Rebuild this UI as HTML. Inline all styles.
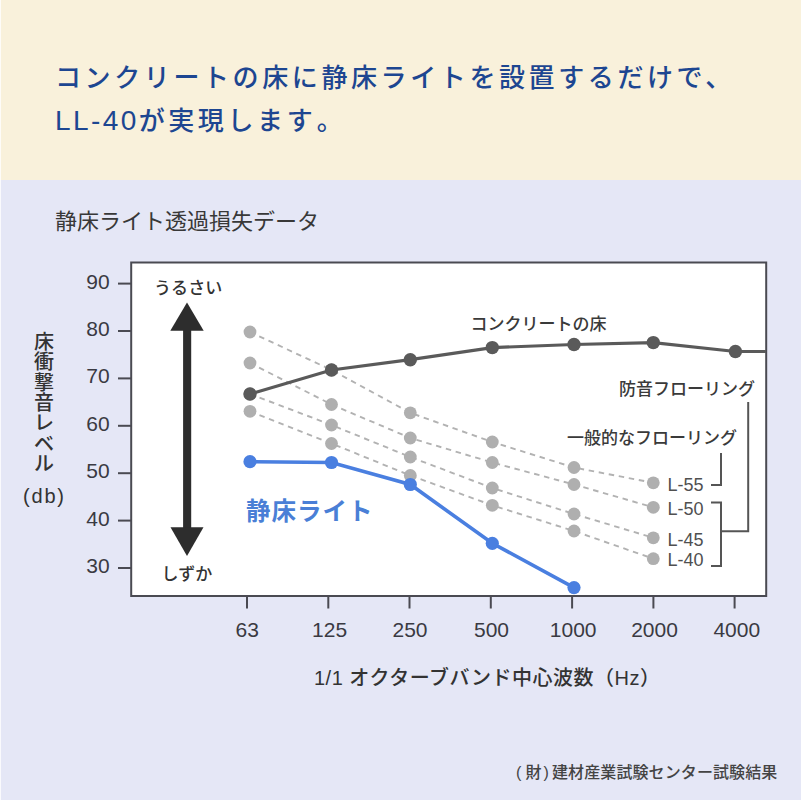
<!DOCTYPE html>
<html lang="ja">
<head>
<meta charset="utf-8">
<title>静床ライト透過損失データ</title>
<style>
html,body{margin:0;padding:0;}
body{width:801px;height:800px;position:relative;overflow:hidden;background:#e5e7f6;font-family:"Liberation Sans","Noto Sans CJK JP",sans-serif;}
.hdr{position:absolute;left:0;top:0;width:801px;height:180px;background:#f9f1db;}
.edge{position:absolute;left:0;top:0;width:1px;height:800px;background:rgba(255,255,255,.8);}
.lat{font-size:28px;letter-spacing:2.4px;line-height:1;}
.h1{position:absolute;left:55px;top:57.2px;margin:0;font-size:26px;font-weight:500;line-height:43px;letter-spacing:3.6px;color:#1d4691;white-space:nowrap;}
.sub{position:absolute;left:55px;top:207px;margin:0;font-size:22px;font-weight:400;line-height:30px;color:#383838;white-space:nowrap;}
.src{position:absolute;left:516px;top:761px;margin:0;font-size:16px;line-height:24px;letter-spacing:.1px;font-weight:500;color:#444;white-space:nowrap;}
svg{position:absolute;left:0;top:0;}
svg text{font-family:"Liberation Sans","Noto Sans CJK JP",sans-serif;}
</style>
</head>
<body>
<div class="hdr"></div>
<div class="edge"></div>
<h1 class="h1">コンクリートの床に静床ライトを設置するだけで、<br><span class="lat">LL-40</span>が実現します<span style="margin-left:0.5px">。</span></h1>
<p class="sub">静床ライト透過損失データ</p>

<svg width="801" height="800" viewBox="0 0 801 800">
  <!-- plot area -->
  <rect x="131.2" y="262.5" width="635" height="333.5" fill="#fff" stroke="#4a4a52" stroke-width="2"/>
  <!-- y ticks -->
  <g stroke="#4a4a52" stroke-width="2">
    <line x1="118" y1="283.6" x2="131" y2="283.6"/>
    <line x1="118" y1="331" x2="131" y2="331"/>
    <line x1="118" y1="378.4" x2="131" y2="378.4"/>
    <line x1="118" y1="425.8" x2="131" y2="425.8"/>
    <line x1="118" y1="473.2" x2="131" y2="473.2"/>
    <line x1="118" y1="520.6" x2="131" y2="520.6"/>
    <line x1="118" y1="568" x2="131" y2="568"/>
  </g>
  <!-- x ticks -->
  <g stroke="#4a4a52" stroke-width="2">
    <line x1="247" y1="596" x2="247" y2="608.5"/>
    <line x1="328.3" y1="596" x2="328.3" y2="608.5"/>
    <line x1="409.5" y1="596" x2="409.5" y2="608.5"/>
    <line x1="490.8" y1="596" x2="490.8" y2="608.5"/>
    <line x1="572.1" y1="596" x2="572.1" y2="608.5"/>
    <line x1="653.4" y1="596" x2="653.4" y2="608.5"/>
    <line x1="734.6" y1="596" x2="734.6" y2="608.5"/>
  </g>
  <!-- y labels -->
  <g font-size="21" fill="#3a3a42" text-anchor="end">
    <text x="109.6" y="288.5">90</text>
    <text x="109.6" y="335.9">80</text>
    <text x="109.6" y="383.3">70</text>
    <text x="109.6" y="430.7">60</text>
    <text x="109.6" y="478.1">50</text>
    <text x="109.6" y="525.5">40</text>
    <text x="109.6" y="572.9">30</text>
  </g>
  <!-- x labels -->
  <g font-size="21" fill="#3a3a42" text-anchor="middle">
    <text x="247.2" y="636.8">63</text>
    <text x="329.6" y="636.8">125</text>
    <text x="410" y="636.8">250</text>
    <text x="491.5" y="636.8">500</text>
    <text x="573.2" y="636.8">1000</text>
    <text x="654.5" y="636.8">2000</text>
    <text x="736.8" y="636.8">4000</text>
  </g>
  <!-- y axis title (vertical) -->
  <g font-size="20" font-weight="500" fill="#333" text-anchor="middle">
    <text x="44" y="349.0">床</text>
    <text x="44" y="369.3">衝</text>
    <text x="44" y="389.6">撃</text>
    <text x="44" y="409.9">音</text>
    <text x="44" y="430.2">レ</text>
    <text x="44" y="450.5">ベ</text>
    <text x="44" y="470.8">ル</text>
    <text x="23" y="502.7" text-anchor="start" textLength="41" lengthAdjust="spacing">(db)</text>
  </g>
  <!-- x axis title -->
  <text x="314" y="685" font-size="20" font-weight="500" letter-spacing="0.5" fill="#333">1/1 オクターブバンド中心波数（Hz）</text>

  <!-- arrow -->
  <g fill="#2d2d2d">
    <polygon points="187,302.5 170.3,330.8 203.7,330.8"/>
    <rect x="183.1" y="330" width="8.1" height="198.5"/>
    <polygon points="187,556 170.5,527.3 203.5,527.3"/>
  </g>
  <g font-size="17" font-weight="500" fill="#333" letter-spacing="0.1">
    <text x="154" y="293.6">うるさい</text>
    <text x="161.5" y="579.7">しずか</text>
  </g>

  <!-- L curves (dashed) -->
  <g fill="none" stroke="#b2b2b2" stroke-width="1.9" stroke-dasharray="5.5 4.7">
    <polyline points="250,332 331.5,370 410.3,412.8 492.3,442 574,467.5 653.3,482.8"/>
    <polyline points="250,363 331.5,404.5 410.3,438 492.3,462.5 574,484.5 653.3,507.3"/>
    <polyline points="250,394 331.5,425 410.3,457 492.3,488 574,514 653.3,537.8"/>
    <polyline points="250,411.3 331.5,443.5 410.3,475.5 492.3,505.3 574,531 653.3,558.7"/>
  </g>
  <g fill="#afafaf">
    <circle cx="250" cy="332" r="6.4"/><circle cx="331.5" cy="370" r="6.4"/><circle cx="410.3" cy="412.8" r="6.4"/><circle cx="492.3" cy="442" r="6.4"/><circle cx="574" cy="467.5" r="6.4"/><circle cx="653.3" cy="482.8" r="6.4"/>
    <circle cx="250" cy="363" r="6.4"/><circle cx="331.5" cy="404.5" r="6.4"/><circle cx="410.3" cy="438" r="6.4"/><circle cx="492.3" cy="462.5" r="6.4"/><circle cx="574" cy="484.5" r="6.4"/><circle cx="653.3" cy="507.3" r="6.4"/>
    <circle cx="250" cy="394" r="6.4"/><circle cx="331.5" cy="425" r="6.4"/><circle cx="410.3" cy="457" r="6.4"/><circle cx="492.3" cy="488" r="6.4"/><circle cx="574" cy="514" r="6.4"/><circle cx="653.3" cy="537.8" r="6.4"/>
    <circle cx="250" cy="411.3" r="6.4"/><circle cx="331.5" cy="443.5" r="6.4"/><circle cx="410.3" cy="475.5" r="6.4"/><circle cx="492.3" cy="505.3" r="6.4"/><circle cx="574" cy="531" r="6.4"/><circle cx="653.3" cy="558.7" r="6.4"/>
  </g>

  <!-- concrete -->
  <polyline fill="none" stroke="#5a5a5a" stroke-width="3.2" points="250,394 331.5,370 410.3,359.7 492.3,347.6 574,344.5 653.3,342.6 735.4,351.5 766,351.5"/>
  <g fill="#5a5a5a">
    <circle cx="250" cy="394" r="6.7"/><circle cx="331.5" cy="370" r="6.7"/><circle cx="410.3" cy="359.7" r="6.7"/><circle cx="492.3" cy="347.6" r="6.7"/><circle cx="574" cy="344.5" r="6.7"/><circle cx="653.3" cy="342.6" r="6.7"/><circle cx="735.4" cy="351.5" r="6.7"/>
  </g>
  <text x="470.5" y="330" font-size="17" font-weight="500" fill="#3a3a3a">コンクリートの床</text>

  <!-- blue -->
  <polyline fill="none" stroke="#4a7fe0" stroke-width="3.6" points="250,461.7 331.5,462.5 410.3,484.5 492.3,543.3 574,587.6"/>
  <g fill="#4a7fe0">
    <circle cx="250" cy="461.7" r="6.6"/><circle cx="331.5" cy="462.5" r="6.6"/><circle cx="410.3" cy="484.5" r="6.6"/><circle cx="492.3" cy="543.3" r="6.6"/><circle cx="574" cy="587.6" r="6.6"/>
  </g>
  <text x="246" y="520" font-size="24.5" font-weight="700" letter-spacing="1" fill="#4a7fd6">静床ライト</text>

  <!-- right labels and brackets -->
  <g font-size="17" font-weight="500" fill="#3a3a3a">
    <text x="619" y="395">防音フローリング</text>
    <text x="567" y="443.5">一般的なフローリング</text>
  </g>
  <g font-size="18" fill="#505050">
    <text x="667.5" y="490.5">L-55</text>
    <text x="667.5" y="515">L-50</text>
    <text x="667.5" y="545.7">L-45</text>
    <text x="667.5" y="566.2">L-40</text>
  </g>
  <g fill="none" stroke="#555" stroke-width="2">
    <polyline points="711,485 721,485 721,453"/>
    <polyline points="711,502.6 721,502.6 721,566 711,566"/>
    <polyline points="721,531.3 748.2,531.3 748.2,402"/>
  </g>
</svg>

<p class="src">(<span style="margin-left:4px">財</span><span style="margin-left:2px;margin-right:3px">)</span>建材産業試験センター試験結果</p>
</body>
</html>
